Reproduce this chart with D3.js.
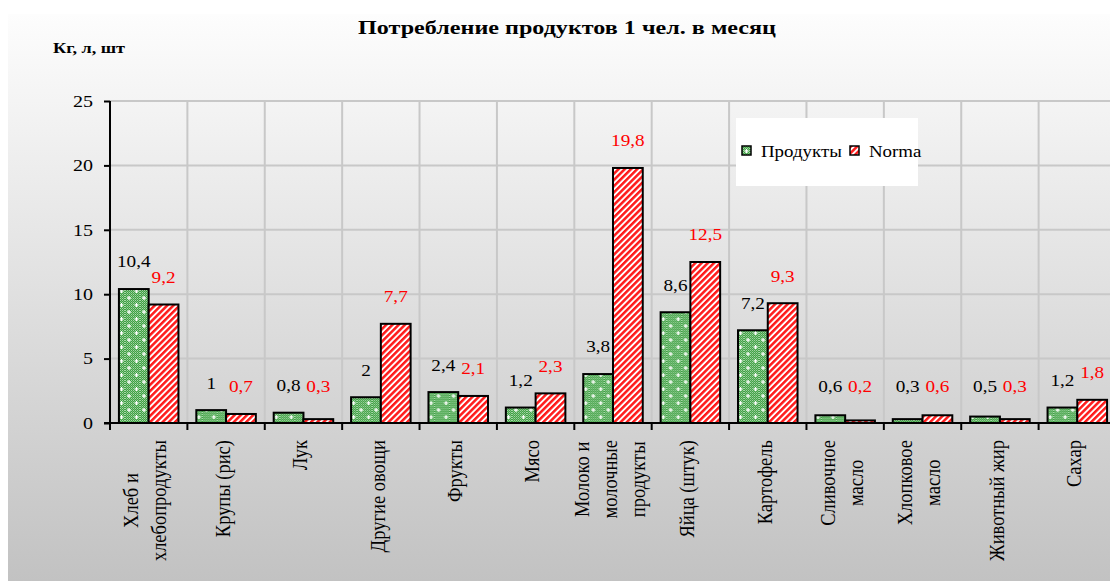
<!DOCTYPE html>
<html>
<head>
<meta charset="utf-8">
<script src="https://cdn.jsdelivr.net/npm/d3@7"></script>
<style>
  body { margin: 0; background: #fff; }
  svg { display: block; }
  text { font-family: "Liberation Serif", "Times New Roman", serif; }
</style>
</head>
<body>
<svg id="chart" width="1110" height="581"></svg>
<script>
// Monthly consumption per person vs. the norm
const categories = [
  "Хлеб и\nхлебопродукты", "Крупы (рис)", "Лук", "Другие овощи", "Фрукты", "Мясо",
  "Молоко и\nмолочные\nпродукты", "Яйца (штук)", "Картофель", "Сливочное\nмасло",
  "Хлопковое\nмасло", "Животный жир", "Сахар"
];
const seriesNames = ["Продукты", "Norma"];
const products = [10.4, 1, 0.8, 2, 2.4, 1.2, 3.8, 8.6, 7.2, 0.6, 0.3, 0.5, 1.2];
const norma    = [9.2, 0.7, 0.3, 7.7, 2.1, 2.3, 19.8, 12.5, 9.3, 0.2, 0.6, 0.3, 1.8];
const yTicks = [0, 5, 10, 15, 20, 25];
const titleText = "Потребление продуктов 1 чел. в месяц";
const unitText = "Кг, л, шт";

const W = 1110, H = 581;
const plot = { left: 110, right: 1116, top: 101, bottom: 423 };
const svg = d3.select("#chart");

const fmt = v => String(v).replace(".", ",");

// ---- defs: background gradient and bar fills ----
const defs = svg.append("defs");
const grad = defs.append("linearGradient").attr("id", "bg")
  .attr("x1", 0).attr("y1", 0).attr("x2", 0).attr("y2", 1);
grad.append("stop").attr("offset", 0).attr("stop-color", "#fdfdfd");
grad.append("stop").attr("offset", 1).attr("stop-color", "#c2c2c2");

const checker = defs.append("pattern").attr("id", "checker")
  .attr("patternUnits", "userSpaceOnUse").attr("width", 2).attr("height", 2);
checker.append("rect").attr("width", 2).attr("height", 2).attr("fill", "#3f9e45");
checker.append("rect").attr("width", 1).attr("height", 1).attr("fill", "#a6d9a6");
checker.append("rect").attr("x", 1).attr("y", 1).attr("width", 1).attr("height", 1).attr("fill", "#7cc27c");

const dots = defs.append("pattern").attr("id", "greenFill")
  .attr("patternUnits", "userSpaceOnUse").attr("width", 15).attr("height", 14);
dots.append("rect").attr("width", 15).attr("height", 14).attr("fill", "url(#checker)");
[[4, 4], [11.5, 11]].forEach(([cx, cy]) => {
  dots.append("rect").attr("x", cx - 2).attr("y", cy - 0.6).attr("width", 4).attr("height", 1.2).attr("fill", "#fff");
  dots.append("rect").attr("x", cx - 0.6).attr("y", cy - 2).attr("width", 1.2).attr("height", 4).attr("fill", "#fff");
});

const stripes = defs.append("pattern").attr("id", "redFill")
  .attr("patternUnits", "userSpaceOnUse").attr("width", 4.4).attr("height", 8)
  .attr("patternTransform", "rotate(45)");
stripes.append("rect").attr("width", 4.4).attr("height", 8).attr("fill", "#fff");
stripes.append("rect").attr("width", 2.5).attr("height", 8).attr("fill", "#ff1a1a");

const fills = ["url(#greenFill)", "url(#redFill)"];
const labelColors = ["#000", "#ff0000"];

// ---- chart area background ----
svg.append("rect").attr("x", 8).attr("y", 14).attr("width", W - 8).attr("height", H - 14)
  .attr("fill", "url(#bg)");

// ---- scales ----
const x = d3.scaleBand().domain(categories).range([plot.left, plot.right]).padding(0);
const xInner = d3.scaleBand().domain(seriesNames).range([0, x.bandwidth()]).paddingInner(0).paddingOuter(0.3);
const y = d3.scaleLinear().domain([0, 25]).range([plot.bottom, plot.top]);

// ---- gridlines ----
const grid = svg.append("g").attr("stroke", "#c8c8c8").attr("stroke-width", 2);
grid.selectAll("line.h").data(yTicks.filter(d => d > 0)).join("line")
  .attr("x1", plot.left).attr("x2", plot.right)
  .attr("y1", d => y(d)).attr("y2", d => y(d));
grid.selectAll("line.v").data(categories.slice(1)).join("line")
  .attr("x1", d => x(d)).attr("x2", d => x(d))
  .attr("y1", y(25)).attr("y2", y(0));

// ---- bars ----
const rows = categories.map((c, i) => ({ cat: c, vals: [products[i], norma[i]] }));
const groups = svg.append("g").selectAll("g").data(rows).join("g")
  .attr("transform", d => `translate(${x(d.cat)},0)`);
groups.selectAll("rect").data(d => d.vals.map((v, k) => ({ v, k }))).join("rect")
  .attr("x", d => xInner(seriesNames[d.k]))
  .attr("width", xInner.bandwidth())
  .attr("y", d => y(d.v))
  .attr("height", d => y(0) - y(d.v))
  .attr("fill", d => fills[d.k])
  .attr("stroke", "#000").attr("stroke-width", 2);

// ---- value labels ----
const labelFloor = 387;
groups.selectAll("text").data(d => d.vals.map((v, k) => ({ v, k }))).join("text")
  .attr("transform", d => `translate(${xInner(seriesNames[d.k]) + xInner.bandwidth() / 2},${Math.min(y(d.v) - 27, labelFloor)}) scale(1.2,1)`)
  .attr("text-anchor", "middle").attr("dominant-baseline", "central")
  .attr("font-size", 16).attr("fill", d => labelColors[d.k])
  .text(d => fmt(d.v));

// ---- axes ----
const yAxis = svg.append("g").attr("transform", `translate(${plot.left},0)`)
  .call(d3.axisLeft(y).tickValues(yTicks).tickSize(6).tickPadding(11).tickFormat(d => d));
yAxis.select(".domain").attr("stroke", "#000").attr("stroke-width", 2)
  .attr("d", `M0,${y(25)}V${y(0)}`);
yAxis.selectAll(".tick line").attr("stroke", "#000").attr("stroke-width", 2);
yAxis.selectAll(".tick text")
  .attr("font-family", null).attr("font-size", 16).attr("fill", "#000")
  .attr("dy", null).attr("dominant-baseline", "central")
  .attr("transform", "scale(1.25,1)")
  .attr("x", -17 / 1.25);

const xAxis = svg.append("g").attr("transform", `translate(0,${plot.bottom})`)
  .call(d3.axisBottom(x).tickSize(0).tickFormat(""));
xAxis.select(".domain").attr("stroke", "#000").attr("stroke-width", 2)
  .attr("d", `M${plot.left - 6},0H${W + 10}`);
xAxis.selectAll(".tick").remove();
xAxis.selectAll("line.bound").data(categories).join("line")
  .attr("class", "bound")
  .attr("x1", d => x(d)).attr("x2", d => x(d))
  .attr("y1", 0).attr("y2", 7)
  .attr("stroke", "#000").attr("stroke-width", 2);

// ---- category labels (rotated, multi-line) ----
const catG = svg.append("g");
const lineGap = 28, labelTop = 440;
categories.forEach(cat => {
  const lines = cat.split("\n");
  const cx = x(cat) + x.bandwidth() / 2;
  const texts = lines.map(line => catG.append("text")
    .attr("font-size", 18.5).attr("fill", "#000")
    .attr("text-anchor", "middle").attr("dominant-baseline", "central")
    .text(line));
  const maxLen = d3.max(texts, t => t.node().getComputedTextLength());
  texts.forEach((t, j) => {
    const lx = cx + (j - (lines.length - 1) / 2) * lineGap - 3;
    t.attr("transform", `translate(${lx},${labelTop + maxLen / 2}) scale(1.1,1) rotate(-90)`);
  });
});

// ---- title and unit ----
svg.append("text").attr("transform", "translate(567,34) scale(1.27,1)")
  .attr("text-anchor", "middle").attr("font-weight", "bold").attr("font-size", 19)
  .text(titleText);
svg.append("text").attr("transform", "translate(53,53) scale(1.3,1)")
  .attr("font-weight", "bold").attr("font-size", 14)
  .text(unitText);

// ---- legend ----
const legend = svg.append("g");
legend.append("rect").attr("x", 736).attr("y", 118).attr("width", 182).attr("height", 68).attr("fill", "#fff");
const legendX = [742, 850];
seriesNames.forEach((name, k) => {
  legend.append("rect").attr("x", legendX[k]).attr("y", 146).attr("width", 9).attr("height", 9)
    .attr("fill", fills[k]).attr("stroke", "#000").attr("stroke-width", 1.5);
  legend.append("text").attr("transform", `translate(${legendX[k] + 19},157) scale(1.18,1)`)
    .attr("font-size", 16).attr("fill", "#000").text(name);
});
</script>
</body>
</html>
